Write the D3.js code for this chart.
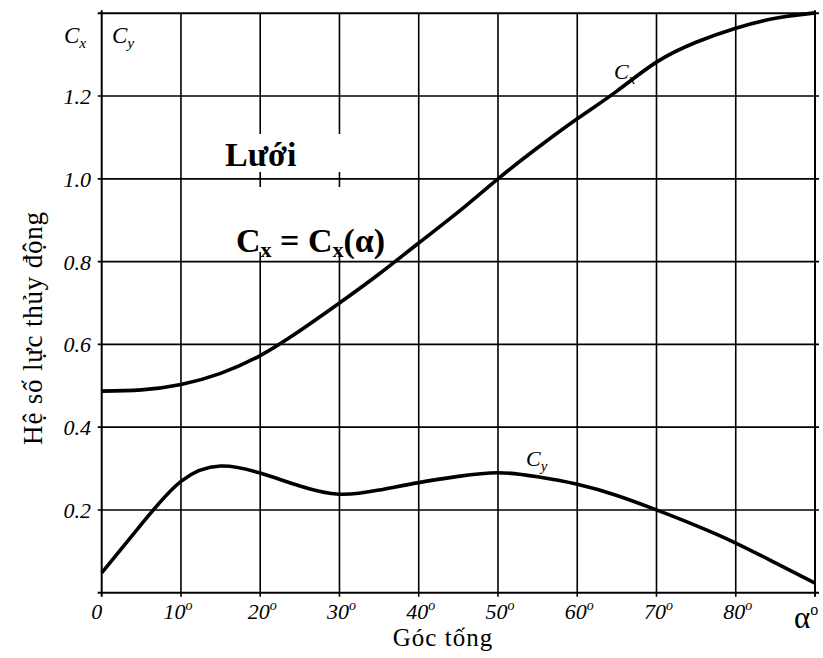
<!DOCTYPE html>
<html>
<head>
<meta charset="utf-8">
<script src="https://cdn.jsdelivr.net/npm/d3@7"></script>
<style>
  html, body { margin: 0; padding: 0; background: #fff; }
  svg { display: block; }
</style>
</head>
<body>
<svg id="chart" width="823" height="658" font-family="'Liberation Serif', 'Times New Roman', Times, serif"></svg>
<script>
// Angle of attack (degrees) at which the curves are sampled
const angles = [0, 5, 10, 15, 20, 25, 30, 35, 40, 45, 50, 55, 60, 65, 70, 75, 80, 85, 90];
// Drag coefficient Cx
const cxValues = [0.487, 0.490, 0.503, 0.530, 0.573, 0.633, 0.700, 0.770, 0.845, 0.920, 1.000, 1.075, 1.145, 1.212, 1.282, 1.330, 1.364, 1.388, 1.401];
// Lift coefficient Cy
const cyValues = [0.048, 0.165, 0.269, 0.306, 0.289, 0.258, 0.238, 0.248, 0.266, 0.281, 0.290, 0.280, 0.262, 0.235, 0.200, 0.162, 0.120, 0.072, 0.023];

// Grid / tick positions
const xTicks = [0, 10, 20, 30, 40, 50, 60, 70, 80, 90];
const xTickLabels = ["0", "10", "20", "30", "40", "50", "60", "70", "80"];
const yTicks = [0.2, 0.4, 0.6, 0.8, 1.0, 1.2, 1.4];
const yTickLabels = ["0.2", "0.4", "0.6", "0.8", "1.0", "1.2"];

const SERIF = "'Liberation Serif', 'Times New Roman', Times, serif";
const svg = d3.select("#chart");
const x = d3.scaleLinear().domain([0, 90]).range([101.7, 815]);
const y = d3.scaleLinear().domain([0, 1.4]).range([592.7, 13.3]);

const grid = svg.append("g").attr("stroke", "#000").attr("fill", "none");

// vertical grid lines with a short tick below the base line
xTicks.forEach(v => {
  grid.append("line")
    .attr("x1", x(v)).attr("x2", x(v))
    .attr("y1", y(1.4) - (v === 0 || v === 90 ? 3 : 0)).attr("y2", y(0) + 4)
    .attr("stroke-width", v === 0 || v === 90 ? 2 : 1.6);
});
// horizontal grid lines with short ticks outside the frame
[0].concat(yTicks).forEach(v => {
  grid.append("line")
    .attr("x1", x(0) - 4).attr("x2", x(90) + 4)
    .attr("y1", y(v)).attr("y2", y(v))
    .attr("stroke-width", v === 0 || v === 1.4 ? 2 : 1.6);
});

// white backing behind the annotation texts
svg.append("rect").attr("x", 214).attr("y", 134).attr("width", 142).attr("height", 38).attr("fill", "#fff");
svg.append("rect").attr("x", 226).attr("y", 187).attr("width", 174).attr("height", 65).attr("fill", "#fff");

const txt = g => g.attr("font-family", SERIF).attr("fill", "#000");

// y tick labels
svg.append("g").call(txt).selectAll("text").data(yTickLabels).join("text")
  .attr("x", 91).attr("y", d => y(+d) + 8)
  .attr("text-anchor", "end")
  .attr("font-size", 22).attr("font-style", "italic")
  .text(d => d);

// x tick labels with degree superscript
const xl = svg.append("g").call(txt).selectAll("text").data(xTickLabels).join("text")
  .attr("x", d => x(+d) + (d === "0" ? -5 : (d === "10" ? -3 : 2)))
  .attr("y", 619)
  .attr("text-anchor", "middle")
  .attr("font-size", 22).attr("font-style", "italic");
xl.append("tspan").text(d => d);
xl.filter(d => d !== "0").append("tspan")
  .attr("font-size", 14).attr("dy", -9).text("o");

// alpha label at the end of the x axis
const al = svg.append("text").call(txt).attr("x", 794).attr("y", 628).attr("font-size", 31);
al.append("tspan").text("α");
al.append("tspan").attr("font-size", 16).attr("dy", -13).text("o");

// axis titles
svg.append("text").call(txt).attr("x", 443).attr("y", 646).attr("text-anchor", "middle")
  .attr("font-size", 25).attr("letter-spacing", 1).text("Góc tống");
svg.append("text").call(txt)
  .attr("transform", "translate(42,328) rotate(-90)")
  .attr("text-anchor", "middle").attr("font-size", 27).attr("letter-spacing", 0.8)
  .text("Hệ số lực thủy động");

// helper: italic C with a subscript
function cLabel(px, py, sub, size) {
  const t = svg.append("text").call(txt).attr("x", px).attr("y", py)
    .attr("font-size", size).attr("font-style", "italic");
  t.append("tspan").text("C");
  t.append("tspan").attr("font-size", size * 0.68).attr("dy", size * 0.22).text(sub);
  return t;
}
cLabel(64, 43, "x", 23);
cLabel(112, 43, "y", 23);

// annotation
svg.append("text").call(txt).attr("x", 225).attr("y", 166)
  .attr("font-size", 34).attr("font-weight", "bold").text("Lưới");
const eq = svg.append("text").call(txt).attr("x", 236).attr("y", 252)
  .attr("font-size", 34).attr("font-weight", "bold");
eq.append("tspan").text("C");
eq.append("tspan").attr("font-size", 22).attr("dy", 5).text("x");
eq.append("tspan").attr("dy", -5).text(" = C");
eq.append("tspan").attr("font-size", 22).attr("dy", 5).text("x");
eq.append("tspan").attr("dy", -5).text("(α)");

// curve labels
cLabel(614, 79, "x", 22);
cLabel(526, 466, "y", 22);

// curves
const line = d3.line().x(d => x(d[0])).y(d => y(d[1])).curve(d3.curveNatural);
svg.append("path")
  .attr("d", line(angles.map((a, i) => [a, cxValues[i]])))
  .attr("fill", "none").attr("stroke", "#000").attr("stroke-width", 3.6);
svg.append("path")
  .attr("d", line(angles.map((a, i) => [a, cyValues[i]])))
  .attr("fill", "none").attr("stroke", "#000").attr("stroke-width", 3.6);
</script>
</body>
</html>
